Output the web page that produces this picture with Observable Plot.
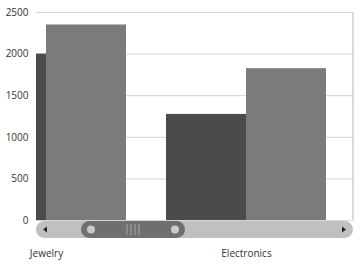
<!DOCTYPE html>
<html><head><meta charset="utf-8">
<script src="https://cdn.jsdelivr.net/npm/d3@7"></script>
<script src="https://cdn.jsdelivr.net/npm/@observablehq/plot@0.6"></script>
<style>body{margin:0;background:#fff}</style>
</head><body><div id="chart"></div>
<script>
const categories = ["Jewelry", "Electronics"];
const seriesDark = [2000, 1275];
const seriesGray = [2350, 1825];
const yTicks = [0, 500, 1000, 1500, 2000, 2500];

const dark = categories.map((c, i) => ({category: c, value: seriesDark[i]}));
const gray = categories.map((c, i) => ({category: c, value: seriesGray[i]}));

const W = 363, H = 264, ML = 36, MR = 10, MT = 12, MB = 44;

const chart = Plot.plot({
  width: W, height: H,
  marginLeft: ML, marginRight: MR, marginTop: MT, marginBottom: MB,
  style: {fontFamily: "Open Sans", fontSize: "10px", color: "#333", background: "#fff"},
  x: {domain: categories, range: [-54, 346], paddingInner: 0.2, paddingOuter: 0.1, tickSize: 0, tickPadding: 29, label: null},
  y: {domain: [0, 2500], ticks: yTicks, tickFormat: d => String(d), tickSize: 0, tickPadding: 8, label: null},
  marks: [
    Plot.ruleY(yTicks, {stroke: "#d6d6d6", strokeWidth: 1}),
    Plot.barY(dark, {x: "category", y: "value", fill: "#4b4b4b", insetRight: 80, clip: true}),
    Plot.barY(gray, {x: "category", y: "value", fill: "#7b7b7b", insetLeft: 80, clip: true})
  ]
});
document.getElementById("chart").appendChild(chart);

// chrome: right border and scrollbar
const svg = d3.select(chart);
svg.append("line").attr("x1", W - MR).attr("x2", W - MR).attr("y1", MT).attr("y2", H - MB)
  .attr("stroke", "#cfcfcf").attr("stroke-width", 1.5);
const g = svg.append("g");
const sy = H - MB + 1, sh = 17;
g.append("rect").attr("x", ML).attr("y", sy).attr("width", W - MR - ML).attr("height", sh)
  .attr("rx", sh / 2).attr("fill", "#c0c0c0");
g.append("path").attr("d", `M43,${sy + sh / 2} L47,${sy + sh / 2 - 3} L47,${sy + sh / 2 + 3} Z`).attr("fill", "#222");
g.append("path").attr("d", `M346,${sy + sh / 2} L342,${sy + sh / 2 - 3} L342,${sy + sh / 2 + 3} Z`).attr("fill", "#222");
g.append("rect").attr("x", 81).attr("y", sy).attr("width", 104).attr("height", sh)
  .attr("rx", sh / 2).attr("fill", "#6f6f6f");
[91, 175].forEach(cx => g.append("circle").attr("cx", cx).attr("cy", sy + sh / 2).attr("r", 4).attr("fill", "#cacaca"));
[127, 131, 135, 139].forEach(x => g.append("line").attr("x1", x).attr("x2", x).attr("y1", sy + 3).attr("y2", sy + sh - 3)
  .attr("stroke", "#a8a8a8").attr("stroke-width", 1));
</script>
</body></html>
